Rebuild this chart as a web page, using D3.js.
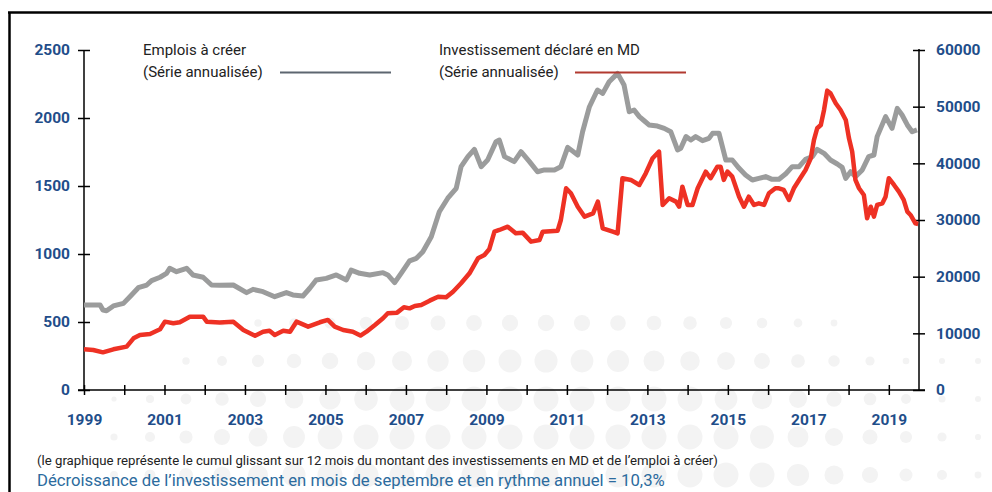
<!DOCTYPE html>
<html>
<head>
<meta charset="utf-8">
<script src="https://cdn.jsdelivr.net/npm/d3@7"></script>
<style>
  body { margin: 0; background: #fff; }
  svg text { font-family: Roboto, "Open Sans", sans-serif; }
</style>
</head>
<body>
<div id="chart"></div>
<script>
// Emplois à créer (left axis), [year, value]
var emplois = [
  [1999.00, 625], [1999.40, 625], [1999.47, 588], [1999.56, 583], [1999.73, 618], [1999.98, 637],
  [2000.14, 686], [2000.35, 752], [2000.56, 772], [2000.68, 804], [2000.89, 829], [2001.05, 858],
  [2001.13, 895], [2001.30, 870], [2001.55, 895], [2001.71, 846], [2001.96, 829], [2002.17, 772],
  [2002.37, 770], [2002.71, 772], [2003.04, 716], [2003.20, 740], [2003.45, 723], [2003.74, 686],
  [2004.03, 716], [2004.19, 699], [2004.44, 691], [2004.61, 748], [2004.77, 809], [2005.02, 821],
  [2005.27, 846], [2005.52, 809], [2005.64, 882], [2005.85, 858], [2006.10, 846], [2006.43, 863],
  [2006.55, 846], [2006.72, 789], [2006.88, 858], [2007.09, 949], [2007.26, 968], [2007.42, 1017],
  [2007.63, 1127], [2007.83, 1311], [2008.04, 1410], [2008.25, 1483], [2008.37, 1642], [2008.54, 1716],
  [2008.70, 1770], [2008.87, 1642], [2009.03, 1691], [2009.24, 1826], [2009.32, 1838], [2009.45, 1716],
  [2009.69, 1679], [2009.86, 1752], [2010.07, 1679], [2010.27, 1605], [2010.44, 1618], [2010.69, 1618],
  [2010.85, 1642], [2011.02, 1784], [2011.27, 1728], [2011.39, 1899], [2011.56, 2083], [2011.76, 2206],
  [2011.89, 2181], [2012.05, 2267], [2012.26, 2328], [2012.42, 2243], [2012.55, 2046], [2012.67, 2059],
  [2012.80, 2010], [2012.92, 1980], [2013.04, 1949], [2013.25, 1941], [2013.42, 1924], [2013.58, 1899],
  [2013.75, 1765], [2013.83, 1777], [2013.96, 1863], [2014.08, 1838], [2014.20, 1863], [2014.37, 1833],
  [2014.53, 1850], [2014.62, 1887], [2014.78, 1887], [2014.95, 1691], [2015.11, 1691], [2015.28, 1630],
  [2015.44, 1581], [2015.61, 1544], [2015.77, 1556], [2015.94, 1569], [2016.10, 1549], [2016.27, 1550],
  [2016.44, 1590], [2016.60, 1642], [2016.77, 1642], [2016.93, 1696], [2017.10, 1716], [2017.22, 1770],
  [2017.39, 1740], [2017.55, 1691], [2017.72, 1662], [2017.84, 1637], [2017.93, 1556], [2018.05, 1605],
  [2018.17, 1569], [2018.34, 1618], [2018.50, 1716], [2018.63, 1728], [2018.71, 1863], [2018.92, 2010],
  [2019.08, 1924], [2019.21, 2071], [2019.33, 2022], [2019.46, 1949], [2019.58, 1899], [2019.70, 1912]
];

// Investissement déclaré en MD (right axis), [year, value]
var investissement = [
  [1999.00, 7180], [1999.23, 7060], [1999.47, 6650], [1999.73, 7180], [2000.06, 7650], [2000.23, 9120],
  [2000.39, 9710], [2000.64, 9880], [2000.89, 10710], [2001.01, 12060], [2001.22, 11770], [2001.38, 11950],
  [2001.63, 12940], [2001.96, 12940], [2002.05, 12060], [2002.37, 11900], [2002.71, 12060], [2002.96, 10590],
  [2003.25, 9590], [2003.45, 10290], [2003.61, 10470], [2003.74, 9710], [2003.95, 10470], [2004.12, 10290],
  [2004.28, 12060], [2004.57, 11180], [2004.86, 11950], [2005.06, 12360], [2005.23, 11180], [2005.44, 10590],
  [2005.68, 10290], [2005.87, 9600], [2006.02, 10290], [2006.23, 11470], [2006.43, 12650], [2006.55, 13540],
  [2006.78, 13650], [2006.95, 14590], [2007.09, 14410], [2007.22, 14830], [2007.38, 15000], [2007.59, 15770],
  [2007.80, 16470], [2008.00, 16350], [2008.17, 17350], [2008.37, 18830], [2008.58, 20590], [2008.79, 23240],
  [2008.95, 23830], [2009.07, 24830], [2009.20, 27940], [2009.32, 28240], [2009.53, 28820], [2009.73, 27650],
  [2009.90, 27770], [2010.11, 26180], [2010.32, 26480], [2010.40, 27940], [2010.77, 28120], [2010.85, 30000],
  [2010.98, 35600], [2011.10, 34720], [2011.27, 32350], [2011.44, 30590], [2011.65, 31180], [2011.77, 33240],
  [2011.89, 28540], [2012.14, 27940], [2012.26, 27650], [2012.38, 37370], [2012.59, 37070], [2012.80, 36180],
  [2012.96, 38240], [2013.13, 40890], [2013.29, 42060], [2013.38, 32650], [2013.54, 33830], [2013.71, 33240],
  [2013.79, 32350], [2013.87, 35880], [2014.00, 32650], [2014.12, 32650], [2014.25, 35600], [2014.45, 38530],
  [2014.57, 37370], [2014.74, 39410], [2014.82, 39410], [2014.90, 37070], [2014.99, 38530], [2015.11, 37650],
  [2015.28, 34120], [2015.40, 32350], [2015.52, 34120], [2015.65, 32650], [2015.77, 32950], [2015.90, 32650],
  [2016.02, 34720], [2016.18, 35600], [2016.27, 35600], [2016.39, 35300], [2016.52, 33540], [2016.64, 35600],
  [2016.77, 37070], [2016.93, 38830], [2017.06, 40890], [2017.14, 44130], [2017.22, 46190], [2017.31, 46770],
  [2017.39, 49420], [2017.47, 52830], [2017.55, 52370], [2017.68, 50600], [2017.80, 49420], [2017.93, 47660],
  [2018.01, 44420], [2018.09, 42060], [2018.17, 37070], [2018.26, 35600], [2018.38, 34420], [2018.46, 30300],
  [2018.55, 32350], [2018.63, 30590], [2018.71, 32650], [2018.84, 32950], [2018.92, 34120], [2019.00, 37370],
  [2019.13, 36180], [2019.25, 35000], [2019.37, 33540], [2019.46, 31470], [2019.54, 30890], [2019.66, 29420],
  [2019.73, 29300]
];

var leftTicks = [0, 500, 1000, 1500, 2000, 2500];
var rightTicks = [0, 10000, 20000, 30000, 40000, 50000, 60000];
var yearTicks = [1999, 2000, 2001, 2002, 2003, 2004, 2005, 2006, 2007, 2008, 2009,
                 2010, 2011, 2012, 2013, 2014, 2015, 2016, 2017, 2018, 2019];
var yearLabels = [1999, 2001, 2003, 2005, 2007, 2009, 2011, 2013, 2015, 2017, 2019];

var width = 992, height = 492;
var blue = "#1f4e8a";

var svg = d3.select("#chart").append("svg")
    .attr("width", width)
    .attr("height", height);

// Halftone dots in the background
var dots = svg.append("g");
[323, 361, 399, 437, 475].forEach(function(cy) {
    for (var cx = 6; cx < width; cx += 36) {
        var e = Math.sqrt(Math.pow((cx - 540) / 520, 2) + Math.pow((cy - 480) / 250, 2));
        var r = Math.min(12.5, 22 * (1 - e));
        if (cx > 800 && cy >= 361) r = Math.max(r, 3);
        if (r < 2.5) continue;
        dots.append("circle").attr("cx", cx).attr("cy", cy).attr("r", r).attr("fill", "#f3f3f3");
    }
});

// Frame
svg.append("line").attr("x1", 8).attr("x2", width).attr("y1", 12.5).attr("y2", 12.5)
    .attr("stroke", "#000").attr("stroke-width", 2.5);
svg.append("line").attr("x1", 9.5).attr("x2", 9.5).attr("y1", 12).attr("y2", height)
    .attr("stroke", "#000").attr("stroke-width", 2.5);

// Scales
var x = d3.scaleLinear().domain([1999, 2019.75]).range([84, 919]);
var yL = d3.scaleLinear().domain([0, 2500]).range([390, 50]);
var yR = d3.scaleLinear().domain([0, 60000]).range([390, 50]);
var plain = d3.format("d");

// Left axis
var gL = svg.append("g")
    .attr("transform", "translate(84,0)")
    .call(d3.axisLeft(yL).tickValues(leftTicks).tickSize(6).tickPadding(8).tickFormat(plain));
gL.select(".domain").remove();
gL.selectAll(".tick line").attr("x1", 6).attr("stroke-width", 1.5);
svg.append("line").attr("x1", 84).attr("x2", 84).attr("y1", 50).attr("y2", 390)
    .attr("stroke", "#000").attr("stroke-width", 1.5);

// Right axis
var gR = svg.append("g")
    .attr("transform", "translate(919,0)")
    .call(d3.axisRight(yR).tickValues(rightTicks).tickSize(6).tickPadding(11).tickFormat(plain));
gR.select(".domain").remove();
gR.selectAll(".tick line").attr("x1", -6).attr("stroke-width", 1.5);
svg.append("line").attr("x1", 919).attr("x2", 919).attr("y1", 49).attr("y2", 390)
    .attr("stroke", "#000").attr("stroke-width", 1.5);

// Bottom axis
var gX = svg.append("g")
    .attr("transform", "translate(0,390)")
    .call(d3.axisBottom(x).tickValues(yearTicks).tickSize(5).tickPadding(19)
        .tickFormat(function(d) { return yearLabels.indexOf(d) >= 0 ? d : ""; }));
gX.select(".domain").remove();
gX.selectAll(".tick line").attr("y1", -5).attr("stroke-width", 1.5);
svg.append("line").attr("x1", 78).attr("x2", 925).attr("y1", 390).attr("y2", 390)
    .attr("stroke", "#000").attr("stroke-width", 1.5);

svg.selectAll(".tick text")
    .attr("fill", blue)
    .style("font-size", "15.5px")
    .style("font-weight", "bold")
    .style("font-family", "Roboto, sans-serif");

// Lines
var lineL = d3.line().x(function(d) { return x(d[0]); }).y(function(d) { return yL(d[1]); });
var lineR = d3.line().x(function(d) { return x(d[0]); }).y(function(d) { return yR(d[1]); });

svg.append("path")
    .datum(emplois)
    .attr("d", lineL)
    .attr("fill", "none")
    .attr("stroke", "#9b9c9c")
    .attr("stroke-width", 5)
    .attr("stroke-linejoin", "round");

svg.append("path")
    .datum(investissement)
    .attr("d", lineR)
    .attr("fill", "none")
    .attr("stroke", "#ee3124")
    .attr("stroke-width", 4.5)
    .attr("stroke-linejoin", "round");

// Legend
var legend = svg.append("g").style("font-size", "15px").attr("fill", "#222");
legend.append("text").attr("x", 143).attr("y", 55).text("Emplois à créer");
legend.append("text").attr("x", 143).attr("y", 77).text("(Série annualisée)");
svg.append("line").attr("x1", 280).attr("x2", 391).attr("y1", 72.5).attr("y2", 72.5)
    .attr("stroke", "#5d6670").attr("stroke-width", 2);

legend.append("text").attr("x", 439).attr("y", 55).text("Investissement déclaré en MD");
legend.append("text").attr("x", 439).attr("y", 77).text("(Série annualisée)");
svg.append("line").attr("x1", 575).attr("x2", 686).attr("y1", 72.5).attr("y2", 72.5)
    .attr("stroke", "#b23a30").attr("stroke-width", 2);

// Notes under the chart
svg.append("text")
    .attr("x", 37).attr("y", 465)
    .attr("fill", "#222")
    .style("font-size", "13.2px")
    .text("(le graphique représente le cumul glissant sur 12 mois du montant des investissements en MD et de l’emploi à créer)");

svg.append("text")
    .attr("x", 37).attr("y", 486)
    .attr("fill", "#2c6b9e")
    .style("font-size", "16.7px")
    .text("Décroissance de l’investissement en mois de septembre et en rythme annuel = 10,3%");
</script>
</body>
</html>
